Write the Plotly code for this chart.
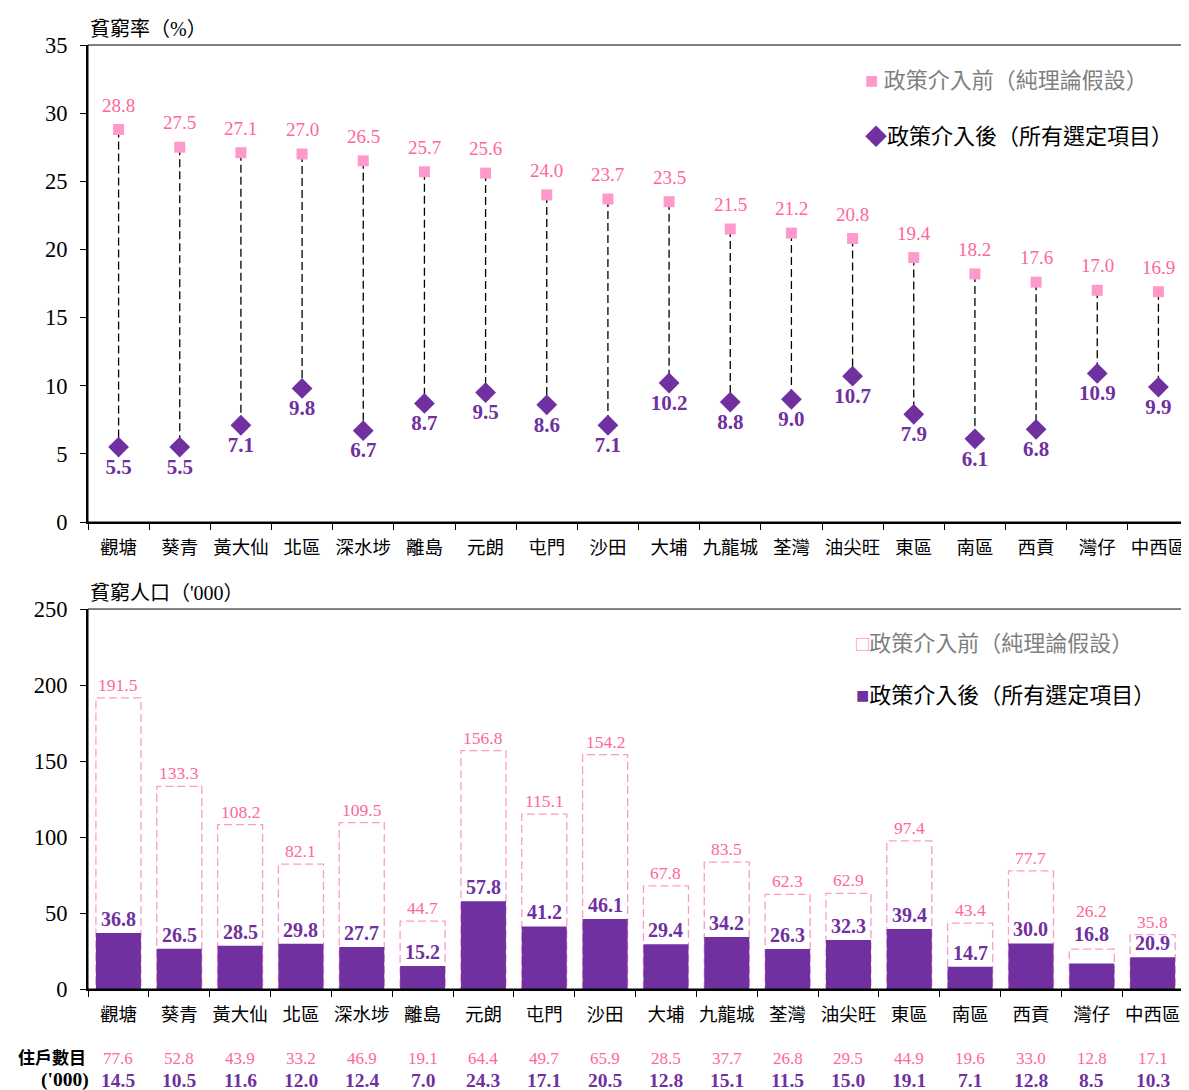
import plotly.graph_objects as go

districts = ["觀塘", "葵青", "黃大仙", "北區", "深水埗", "離島", "元朗", "屯門", "沙田",
             "大埔", "九龍城", "荃灣", "油尖旺", "東區", "南區", "西貢", "灣仔", "中西區"]

# poverty rate (%)
rate_before = [28.8, 27.5, 27.1, 27.0, 26.5, 25.7, 25.6, 24.0, 23.7,
               23.5, 21.5, 21.2, 20.8, 19.4, 18.2, 17.6, 17.0, 16.9]
rate_after = [5.5, 5.5, 7.1, 9.8, 6.7, 8.7, 9.5, 8.6, 7.1,
              10.2, 8.8, 9.0, 10.7, 7.9, 6.1, 6.8, 10.9, 9.9]

# poor population ('000)
pop_before = [191.5, 133.3, 108.2, 82.1, 109.5, 44.7, 156.8, 115.1, 154.2,
              67.8, 83.5, 62.3, 62.9, 97.4, 43.4, 77.7, 26.2, 35.8]
pop_after = [36.8, 26.5, 28.5, 29.8, 27.7, 15.2, 57.8, 41.2, 46.1,
             29.4, 34.2, 26.3, 32.3, 39.4, 14.7, 30.0, 16.8, 20.9]

# poor households ('000)
hh_before = [77.6, 52.8, 43.9, 33.2, 46.9, 19.1, 64.4, 49.7, 65.9,
             28.5, 37.7, 26.8, 29.5, 44.9, 19.6, 33.0, 12.8, 17.1]
hh_after = [14.5, 10.5, 11.6, 12.0, 12.4, 7.0, 24.3, 17.1, 20.5,
            12.8, 15.1, 11.5, 15.0, 19.1, 7.1, 12.8, 8.5, 10.3]

rate_ticks = [0, 5, 10, 15, 20, 25, 30, 35]
pop_ticks = [0, 50, 100, 150, 200, 250]

PINK = "#FF99CC"
PINK_TEXT = "#FF6699"
PURPLE = "#7030A0"
GREY = "#7F7F7F"
FONT = "Liberation Serif, Noto Sans CJK TC"
BAR_W = 0.74

fig = go.Figure()
annotations = []
shapes = []

# ---- top panel: poverty rate dumbbells ----
cx, cy = [], []
for d, b, a in zip(districts, rate_before, rate_after):
    cx += [d, d, None]
    cy += [b, a, None]
fig.add_trace(go.Scatter(
    x=cx, y=cy, mode="lines", xaxis="x", yaxis="y",
    line=dict(color="black", width=1.3, dash="8px,4px"),
    hoverinfo="skip", showlegend=False))

fig.add_trace(go.Scatter(
    x=districts, y=rate_before, mode="markers", xaxis="x", yaxis="y",
    marker=dict(symbol="square", size=11, color=PINK),
    cliponaxis=False, showlegend=False))
for d, b in zip(districts, rate_before):
    annotations.append(dict(x=d, y=b, xref="x", yref="y", text=f"{b:.1f}",
                            showarrow=False, yanchor="bottom", yshift=12,
                            font=dict(size=19, color=PINK_TEXT, family=FONT)))

fig.add_trace(go.Scatter(
    x=districts, y=rate_after, mode="markers+text", xaxis="x", yaxis="y",
    marker=dict(symbol="diamond", size=16, color=PURPLE),
    text=[f"{v:.1f}" for v in rate_after], textposition="bottom center",
    textfont=dict(size=21, color=PURPLE, family=FONT, weight="bold"),
    cliponaxis=False, showlegend=False))

# ---- bottom panel: poor population bars ----
fig.add_trace(go.Bar(
    x=districts, y=pop_after, width=BAR_W, xaxis="x2", yaxis="y2",
    marker=dict(color=PURPLE, line=dict(width=0)), showlegend=False))

# pixels per unit on the population axis, used to lift labels that would collide
PX_PER_UNIT = 380 / 250
for i, (d, b, a) in enumerate(zip(districts, pop_before, pop_after)):
    shapes.append(dict(type="rect", xref="x2", yref="y2", x0=i - BAR_W / 2, x1=i + BAR_W / 2,
                       y0=0, y1=b, line=dict(color=PINK, width=1.3, dash="8px,4px"),
                       layer="below"))
    gap = (b - a) * PX_PER_UNIT
    a_shift = 1 if gap > 18 else gap + 2
    b_shift = 1 if gap > 18 else a_shift + 24 - gap
    annotations.append(dict(x=d, y=a, xref="x2", yref="y2", text=f"<b>{a:.1f}</b>",
                            showarrow=False, yanchor="bottom", yshift=a_shift,
                            font=dict(size=20, color=PURPLE, family=FONT)))
    annotations.append(dict(x=d, y=b, xref="x2", yref="y2", text=f"{b:.1f}",
                            showarrow=False, yanchor="bottom", yshift=b_shift,
                            font=dict(size=17.5, color=PINK_TEXT, family=FONT)))

# household row under the bottom panel
for d, hb, ha in zip(districts, hh_before, hh_after):
    annotations.append(dict(x=d, y=-0.0731, xref="x2", yref="paper", text=f"{hb:.1f}",
                            showarrow=False, yanchor="middle",
                            font=dict(size=17, color=PINK_TEXT, family=FONT)))
    annotations.append(dict(x=d, y=-0.0964, xref="x2", yref="paper", text=f"<b>{ha:.1f}</b>",
                            showarrow=False, yanchor="middle",
                            font=dict(size=19.5, color=PURPLE, family=FONT)))
annotations.append(dict(x=0.0, y=-0.0731, xref="paper", yref="paper", text="<b>住戶數目</b>",
                        showarrow=False, xanchor="right", yanchor="middle",
                        font=dict(size=17, color="black", family=FONT)))
annotations.append(dict(x=0.003, y=-0.0964, xref="paper", yref="paper", text="<b>('000)</b>",
                        showarrow=False, xanchor="right", yanchor="middle",
                        font=dict(size=19.5, color="black", family=FONT)))

# axis titles
annotations.append(dict(x=0.0, y=1.0, xref="paper", yref="paper", text="貧窮率（%）",
                        showarrow=False, xanchor="left", yanchor="bottom", yshift=3,
                        font=dict(size=20, color="black", family=FONT)))
annotations.append(dict(x=0.0, y=0.4025, xref="paper", yref="paper", text="貧窮人口（'000）",
                        showarrow=False, xanchor="left", yanchor="bottom", yshift=3,
                        font=dict(size=20, color="black", family=FONT)))

# legends
legend_rows = [
    (0.704, 0.962, f"<span style='color:{PINK}'>■</span> <span style='color:{GREY}'>政策介入前（純理論假設）</span>"),
    (0.704, 0.903, f"<span style='color:{PURPLE}'>◆</span><span style='color:black'>政策介入後（所有選定項目）</span>"),
    (0.696, 0.366, f"<span style='color:{PINK}'>□</span><span style='color:{GREY}'>政策介入前（純理論假設）</span>"),
    (0.696, 0.311, f"<span style='color:{PURPLE}'>■</span><span style='color:black'>政策介入後（所有選定項目）</span>"),
]
for lx, ly, txt in legend_rows:
    annotations.append(dict(x=lx, y=ly, xref="paper", yref="paper", text=txt,
                            showarrow=False, xanchor="left", yanchor="middle",
                            font=dict(size=22, family=FONT)))

# frame lines
shapes.append(dict(type="rect", xref="x domain", yref="y domain", x0=0, x1=1, y0=0, y1=1,
                   line=dict(color="black", width=1)))
shapes.append(dict(type="rect", xref="x2 domain", yref="y2 domain", x0=0, x1=1, y0=0, y1=1,
                   line=dict(color="black", width=1)))

xaxis_common = dict(type="category", tickson="boundaries", ticks="outside", ticklen=6,
                    tickcolor="black", tickwidth=1, showline=True, linecolor="black",
                    linewidth=2, showgrid=False, zeroline=False, ticklabelstandoff=8,
                    tickangle=0, automargin=False, range=[-0.5, len(districts) - 0.5],
                    tickfont=dict(size=18.5, color="black", family=FONT),
                    categoryorder="array", categoryarray=districts)
yaxis_common = dict(ticks="outside", ticklen=6, tickcolor="black", tickwidth=1,
                    showline=True, linecolor="black", linewidth=2, showgrid=False,
                    zeroline=False, ticklabelstandoff=8, automargin=False,
                    tickfont=dict(size=22.5, color="black", family=FONT))

# the page body adds an 8px offset, so the figure is sized to the visible area
fig.update_layout(
    width=1181, height=1082,
    margin=dict(l=80, r=0, t=37, b=101),
    paper_bgcolor="white", plot_bgcolor="white",
    font=dict(family=FONT, color="black"),
    barmode="overlay", showlegend=False,
    xaxis=dict(domain=[0, 1], anchor="y", **xaxis_common),
    yaxis=dict(domain=[0.4947, 1], anchor="x", range=[0, 35], tickvals=rate_ticks, **yaxis_common),
    xaxis2=dict(domain=[0, 0.9946], anchor="y2", **xaxis_common),
    yaxis2=dict(domain=[0, 0.4025], anchor="x2", range=[0, 250], tickvals=pop_ticks, **yaxis_common),
    shapes=shapes, annotations=annotations,
)

fig.write_html("out.html")
